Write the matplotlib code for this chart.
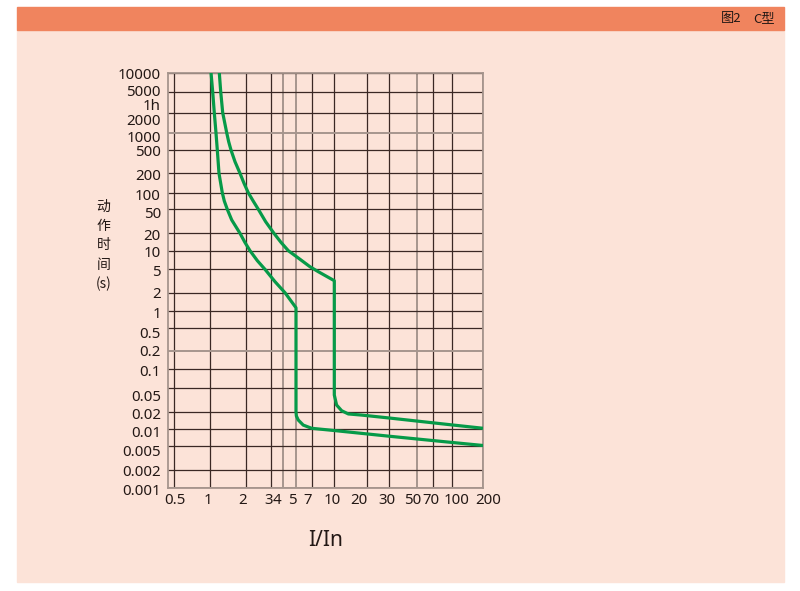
import numpy as np
import matplotlib
matplotlib.use('Agg')
from matplotlib import pyplot as plt
from matplotlib.patches import Rectangle
from matplotlib.transforms import ScaledTranslation

plt.rcParams['font.family'] = ['Noto Sans', 'Noto Sans CJK SC', 'DejaVu Sans']

# tick values and labels of the printed chart
x_ticks = [0.5, 1, 2, 3, 4, 5, 7, 10, 20, 30, 50, 70, 100, 200]
x_labels = ['0.5', '1', '2', '3', '4', '5', '7', '10', '20', '30', '50', '70', '100', '200']
y_ticks = [10000, 5000, 3600, 2000, 1000, 500, 200, 100, 50, 20, 10, 5,
           2, 1, 0.5, 0.2, 0.1, 0.05, 0.02, 0.01, 0.005, 0.002, 0.001]
y_labels = ['10000', '5000', '1h', '2000', '1000', '500', '200', '100', '50', '20', '10', '5',
            '2', '1', '0.5', '0.2', '0.1', '0.05', '0.02', '0.01', '0.005', '0.002', '0.001']

# lower tripping curve (I/In, seconds)
low_x = [1.02, 1.053, 1.086, 1.122, 1.151, 1.189, 1.267, 1.317, 1.395, 1.519, 1.782, 1.96,
         2.136, 2.41, 2.73, 3.31, 4.12, 5.0, 5.0, 5.04, 5.25, 5.84, 7, 10, 30, 100, 200]
low_t = [10000, 5000, 2000, 1000, 500, 200, 100, 70.7, 50, 33.3, 20, 13.9,
         10, 6.89, 5, 3.08, 2, 1.12, 0.02, 0.0169, 0.0144, 0.0118, 0.0104, 0.0095, 0.0075, 0.0058, 0.0051]

# upper tripping curve
up_x = [1.196, 1.229, 1.277, 1.379, 1.433, 1.498, 1.618, 1.782, 1.925, 2.076, 2.25, 2.448, 2.76,
        3.23, 3.8, 4.37, 5.45, 6.75, 7.77, 10, 10, 10.5, 11.7, 13.5, 18, 30, 100, 200]
up_t = [10000, 5000, 2000, 1000, 697, 500, 316, 200, 140, 100, 70.7, 50, 31.2,
        20, 13.9, 10, 7.26, 5.5, 4.55, 3.2, 0.0385, 0.026, 0.0208, 0.0183, 0.0175, 0.0156, 0.0119, 0.0104]

# the printed grid is not evenly logarithmic: pixel place of every grid line
x_grid_vals = [0.5, 1, 2, 3, 4, 5, 7, 10, 20, 30, 50, 70, 100, 200]
x_grid_px = [174.3, 210, 246, 270.7, 283.3, 296, 311.7, 334.3, 366.7, 389.3, 416.7, 432.7, 451.7, 483.3]
y_grid_vals = [10000, 5000, 2000, 1000, 500, 200, 100, 50, 20, 10, 5,
               2, 1, 0.5, 0.2, 0.1, 0.05, 0.02, 0.01, 0.005, 0.002, 0.001]
y_grid_px = [72.7, 91.7, 112.7, 132.7, 150, 173.3, 192.7, 209.3, 233.3, 250.7, 269.3,
             292.7, 310.7, 328.3, 350.7, 369.3, 388.3, 411.7, 429.3, 446, 470, 488.3]
x_dark = [True, True, True, True, False, False, True, True, True, True, False, True, True, False]
y_dark = [True, True, True, False, True, True, True, True, True, True, True,
          True, True, True, False, True, True, True, True, True, True, False]


def interp_ext(x, xp, fp):
    x = np.asarray(x, dtype=float)
    y = np.interp(x, xp, fp)
    lo_slope = (fp[1] - fp[0]) / (xp[1] - xp[0])
    hi_slope = (fp[-1] - fp[-2]) / (xp[-1] - xp[-2])
    y = np.where(x < xp[0], fp[0] + (x - xp[0]) * lo_slope, y)
    y = np.where(x > xp[-1], fp[-1] + (x - xp[-1]) * hi_slope, y)
    return y


def make_scale(vals, pos):
    order = np.argsort(vals)
    lv = np.log10(np.array(vals, dtype=float)[order])
    pp = np.array(pos, dtype=float)[order]

    def forward(v):
        with np.errstate(divide='ignore', invalid='ignore'):
            lg = np.log10(np.maximum(np.asarray(v, dtype=float), 1e-300))
        return interp_ext(lg, lv, pp)

    def inverse(p):
        return 10 ** interp_ext(p, pp, lv)

    return forward, inverse


xf, xi = make_scale(x_grid_vals, x_grid_px)
yf, yi = make_scale(y_grid_vals, [-p for p in y_grid_px])

peach = '#fce3d8'
orange = '#f0845e'
green = '#069a48'
dark = '#3a2824'
grey = '#a6958d'
txt = '#231815'

W, H = 800, 591
fig = plt.figure(figsize=(8, 5.91), dpi=100, facecolor='white')
fig.patches.append(Rectangle((17 / W, 1 - 582 / H), 767 / W, 552 / H,
                             transform=fig.transFigure, color=peach, zorder=-5))
fig.patches.append(Rectangle((17 / W, 1 - 30 / H), 767 / W, 23 / H,
                             transform=fig.transFigure, color=orange, zorder=-5))
cjk = ['Noto Sans CJK SC', 'DejaVu Sans']
fig.text(742 / W, 1 - 18.5 / H, '图2', ha='right', va='center', fontsize=9.5, color=txt, family=cjk)
fig.text(775 / W, 1 - 18.5 / H, 'C型', ha='right', va='center', fontsize=9.5, color=txt, family=cjk)

left, right, top, bottom = 168.3, 483.3, 72.7, 488.3
ax = fig.add_axes([left / W, 1 - bottom / H, (right - left) / W, (bottom - top) / H])
ax.set_zorder(2)
ax.set_facecolor(peach)
ax.set_xscale('function', functions=(xf, xi))
ax.set_yscale('function', functions=(yf, yi))
ax.set_xlim(float(xi(left)), 200)
ax.set_ylim(0.001, 10000)

for v, d in zip(x_grid_vals, x_dark):
    ax.axvline(v, color=dark if d else grey, lw=0.9 if d else 1.4, zorder=1)
for v, d in zip(y_grid_vals, y_dark):
    ax.axhline(v, color=dark if d else grey, lw=0.9 if d else 1.4, zorder=1)

ax.plot(low_x, low_t, color=green, lw=2.3, zorder=3, solid_joinstyle='round')
ax.plot(up_x, up_t, color=green, lw=2.3, zorder=3, solid_joinstyle='round')

for s in ax.spines.values():
    s.set_color(grey)
    s.set_linewidth(1.3)

ax.set_xticks(x_ticks)
ax.set_xticklabels(x_labels)
ax.set_yticks(y_ticks)
ax.set_yticklabels(y_labels)
ax.minorticks_off()
ax.tick_params(axis='both', length=0, labelsize=10.8, colors=txt)
ax.tick_params(axis='y', pad=5.3)
ax.tick_params(axis='x', pad=3.5)

# nudge labels the way the printed chart places them (pixels)
x_nudge = [0.7, -1.7, -3.3, -2.4, -6, -3.7, -4, -2, -7.7, -2.6, -4.4, -2, 5, 4.7]
y_nudge = [0.6, -1, 5, 6.6, 3.8, 0.5, 1, 2.3, 3.4, 0.7, 1, 1.7,
           0, 2, 4.4, 0, 0.7, 6.7, 2.3, 2.4, 4, 1, 1]
for lab, dx in zip(ax.get_xticklabels(), x_nudge):
    lab.set_transform(lab.get_transform() + ScaledTranslation(dx / 100, 0, fig.dpi_scale_trans))
for lab, dy in zip(ax.get_yticklabels(), y_nudge):
    lab.set_transform(lab.get_transform() + ScaledTranslation(0, -dy / 100, fig.dpi_scale_trans))

# vertical axis title, one character per line
for i, ch in enumerate(['动', '作', '时', '间', '(s)']):
    fig.text(103.5 / W, 1 - (206.5 + i * 19.4) / H, ch, ha='center', va='center',
             fontsize=10, color=txt, family=cjk)

fig.text(326 / W, 1 - 541 / H, 'I/In', ha='center', va='center', fontsize=15, color=txt)

fig.savefig('out.png', dpi=100)
